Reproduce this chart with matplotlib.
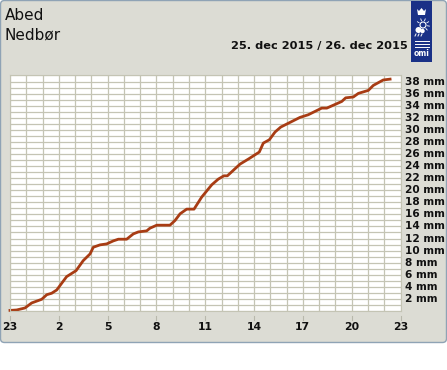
"""Abed - Nedbør: accumulated precipitation over one day (DMI style)."""

import numpy as np
import matplotlib
matplotlib.use("Agg")
import matplotlib.pyplot as plt
from matplotlib.patches import FancyBboxPatch, Rectangle, Circle, Polygon

W, H = 447, 370

# hours since 23:00 the evening before
hours = [0, 0.41, 0.92, 1.33, 1.95, 2.26, 2.56, 2.87, 3.48, 4.06, 4.5, 4.92,
         5.12, 5.53, 5.94, 6.35, 6.66, 7.17, 7.58, 7.89, 8.4, 8.6, 9.02, 9.83,
         10.14, 10.45, 10.86, 11.31, 11.78, 12.4, 12.8, 13.15, 13.36, 14.14,
         14.65, 15.32, 15.57, 15.94, 16.29, 16.64, 17.82, 18.33, 19.16, 19.47,
         20.39, 20.63, 21.1, 21.41, 22.02, 22.33, 22.94, 23.36]
# accumulated rain, mm
rain_mm = [0.1, 0.17, 0.5, 1.33, 1.94, 2.7, 2.94, 3.48, 5.69, 6.68, 8.34, 9.45,
           10.56, 10.95, 11.11, 11.61, 11.89, 11.89, 12.77, 13.1, 13.27, 13.71,
           14.21, 14.21, 14.98, 16.09, 16.87, 16.87, 18.86, 20.9, 21.84, 22.39,
           22.39, 24.33, 25.16, 26.32, 27.81, 28.36, 29.64, 30.46, 32.06, 32.5,
           33.6, 33.6, 34.7, 35.3, 35.44, 36.04, 36.53, 37.36, 38.26, 38.4]

hour_ticks = list(range(0, 25, 3))
hour_labels = ["23", "2", "5", "8", "11", "14", "17", "20", "23"]
mm_ticks = list(range(2, 40, 2))

PANEL = "#dcdcd4"
GRID = "#c4c4b4"
LINE = "#a83c14"
BLUE = "#1a3187"

fig = plt.figure(figsize=(W / 100, H / 100), dpi=100, facecolor="white")

# full figure overlay working in pixels, y pointing down
bg = fig.add_axes([0, 0, 1, 1])
bg.set_xlim(0, W)
bg.set_ylim(H, 0)
bg.axis("off")
bg.add_patch(FancyBboxPatch((0.5, 0.5), W - 1, 342, boxstyle="round,pad=0,rounding_size=4",
                            fc=PANEL, ec="#8fa3b5", lw=1.0))
bg.text(5, 15, "Abed", fontsize=11, va="center", color="#111111")
bg.text(5, 35, "Nedbør", fontsize=11, va="center", color="#111111")
bg.text(407.5, 46, "25. dec 2015 / 26. dec 2015", fontsize=8.2, fontweight="bold",
        ha="right", va="center", color="#111111")

# logo: crown, sun behind cloud, waves, name
bg.add_patch(Rectangle((411, 1), 21, 61, fc=BLUE, ec="none"))
bg.add_patch(Polygon([(417, 9), (419, 11), (421.5, 8), (424, 11), (426, 9), (425, 15), (418, 15)],
                     fc="white", ec="none"))
bg.add_patch(Circle((423, 25), 3, fc="none", ec="white", lw=0.8))
for a in np.radians(range(-150, 90, 40)):
    bg.plot([423 + 4.5 * np.cos(a), 423 + 6.5 * np.cos(a)],
            [25 + 4.5 * np.sin(a), 25 + 6.5 * np.sin(a)], color="white", lw=0.6)
bg.add_patch(Circle((418.5, 30), 3, fc="white", ec="none"))
bg.add_patch(Circle((422.5, 31), 2.2, fc="white", ec="none"))
for xx in (416, 419, 422):
    bg.plot([xx, xx - 1], [34, 36], color="white", lw=0.7)
for yy in (41, 44, 47):
    bg.plot([415, 429], [yy, yy], color="white", lw=0.7)
bg.text(421.5, 54, "omi", fontsize=5.5, fontweight="bold", color="white", ha="center", va="center")

# main chart
left, right, top, bottom = 10, 400.5, 75.5, 311
ax = fig.add_axes([left / W, 1 - bottom / H, (right - left) / W, (bottom - top) / H])
ax.set_facecolor("white")
ax.set_xlim(0, 24)
ax.set_ylim(0, 39)
ax.set_xticks(range(25))
ax.set_yticks(range(40))
ax.grid(True, color=GRID, lw=0.9)
ax.set_axisbelow(True)
ax.tick_params(length=0, labelbottom=False, labelleft=False)
for s in ax.spines.values():
    s.set_color(GRID)
    s.set_linewidth(0.8)
ax.plot(hours, rain_mm, color=LINE, lw=2.0, solid_joinstyle="round", clip_on=False)

trans = ax.get_xaxis_transform()
for h, lab in zip(hour_ticks, hour_labels):
    ax.plot([h, h], [-0.022, -0.04], transform=trans, color="#b8b8ac", lw=0.8, clip_on=False)
    ax.text(h, -0.068, lab, transform=trans, fontsize=7.8, fontweight="bold", ha="center",
            va="center", color="#111111")

ytrans = ax.get_yaxis_transform()
for m in mm_ticks:
    ax.text(1.0128, m, f"{m} mm", transform=ytrans, fontsize=7.6, fontweight="bold",
            va="center", ha="left", color="#111111", clip_on=False)

fig.savefig("out.png", dpi=100, facecolor="white")
